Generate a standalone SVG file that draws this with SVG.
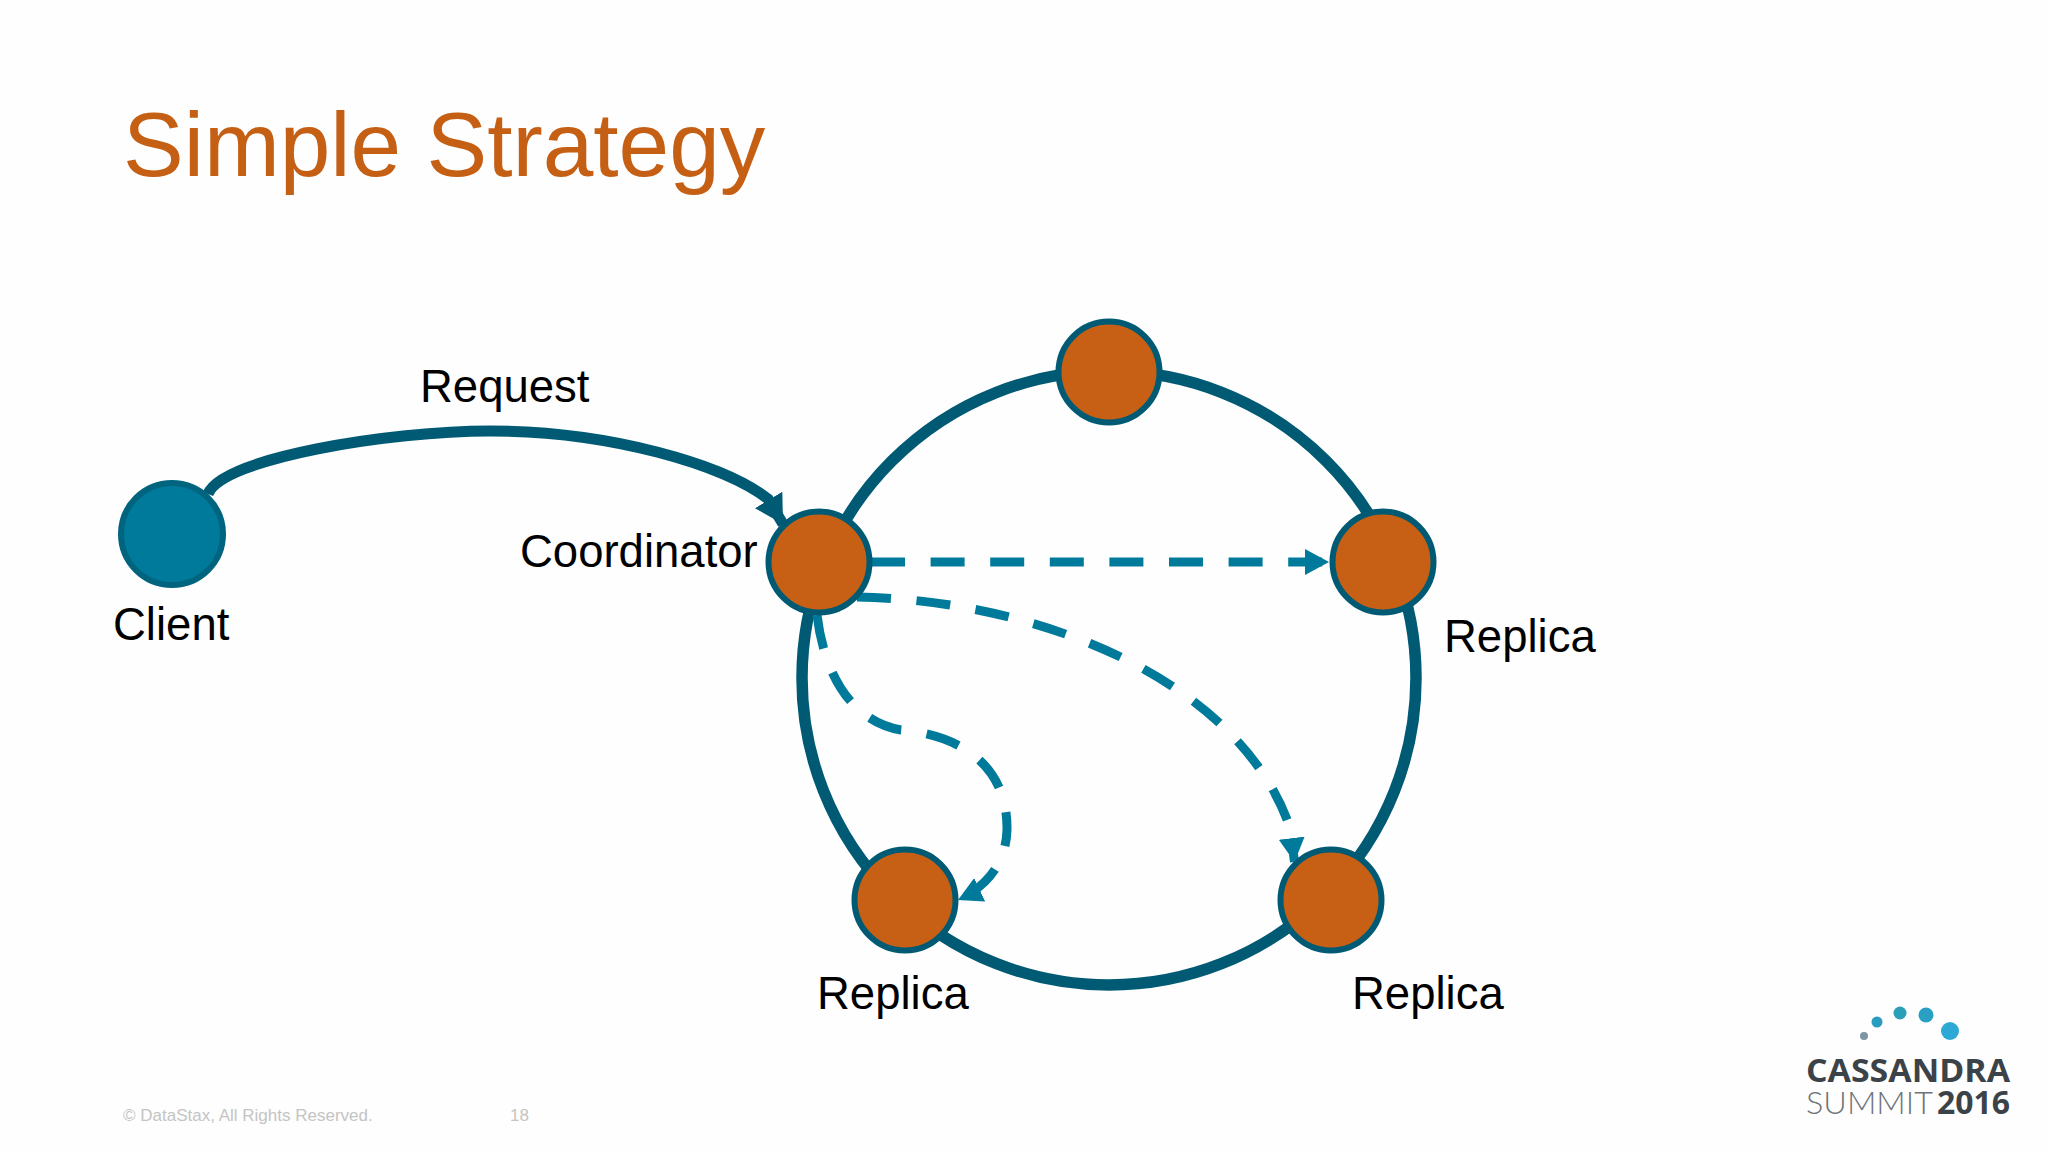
<svg xmlns="http://www.w3.org/2000/svg" width="2048" height="1152" viewBox="0 0 2048 1152">
<style>
text{font-family:"Liberation Sans",Arial,sans-serif}
.lbl{font-size:45.5px;fill:#000}
.node{fill:#c75f14;stroke:#005a73;stroke-width:6}
.dash{fill:none;stroke:#007a9b;stroke-width:9;stroke-dasharray:34 25.6}
.foot{font-size:17px;fill:#c4c4c4}
</style>
<defs>
<marker id="a" markerUnits="userSpaceOnUse" markerWidth="26" markerHeight="26" refX="24" refY="13" orient="auto"><path d="M0 0L24 13L0 26z" fill="#007a9b"/></marker>
<marker id="b" markerUnits="userSpaceOnUse" markerWidth="32" markerHeight="32" refX="28" refY="16" orient="auto"><path d="M0 0L28 16L0 32z" fill="#005a73"/></marker>
</defs>
<rect width="2048" height="1152" fill="#fefefe"/>
<text x="123" y="176" font-size="91" fill="#c55f14">Simple Strategy</text>
<g id="connectors">
<ellipse cx="1109" cy="678" rx="307" ry="307" fill="none" stroke="#005a73" stroke-width="11.500"/>
<path d="M208 494C222 458 390 431 490 431C610 431 725 465 768 499L783 524" fill="none" stroke="#005a73" stroke-width="11" marker-end="url(#b)"/>
<path class="dash" d="M871 562H1329" marker-end="url(#a)"/>
<path class="dash" d="M857 597C1040 600 1235 680 1288 822Q1291 832 1294.500 862" marker-end="url(#a)"/>
<path class="dash" d="M817 615C825 680 855 722 901 730C960 735 1008 765 1007 830C1006 860 990 885 958 900" marker-end="url(#a)"/>
</g>
<g id="client"><circle cx="172" cy="534" r="51" fill="#007a9b" stroke="#00647f" stroke-width="6"/><text class="lbl" x="113" y="640">Client</text></g>
<g id="request-label"><text class="lbl" x="420" y="402">Request</text></g>
<g id="node-top"><circle class="node" cx="1109" cy="372" r="50.500"/></g>
<g id="coordinator"><circle class="node" cx="819" cy="562" r="50.500"/><text class="lbl" x="520" y="567">Coordinator</text></g>
<g id="replica-right"><circle class="node" cx="1383" cy="562" r="50.500"/><text class="lbl" x="1444" y="652">Replica</text></g>
<g id="replica-left"><circle class="node" cx="905" cy="900" r="50.500"/><text class="lbl" x="817" y="1009">Replica</text></g>
<g id="replica-bottom"><circle class="node" cx="1331" cy="900" r="50.500"/><text class="lbl" x="1352" y="1009">Replica</text></g>
<g id="footer"><text class="foot" x="123" y="1121">© DataStax, All Rights Reserved.</text><text class="foot" x="510" y="1121">18</text></g>
<g id="logo">
<circle cx="1864" cy="1036" r="4" fill="#7d95a5"/><circle cx="1877" cy="1022" r="5.500" fill="#2a9cc0"/><circle cx="1900" cy="1013" r="6.500" fill="#2a9fb8"/><circle cx="1926" cy="1015" r="7.500" fill="#2a9fc4"/><circle cx="1950" cy="1031" r="9" fill="#2ea8d4"/>
<text x="1806" y="1082" font-size="32" font-weight="700" fill="#3c4348" style="font-family:'Open Sans',sans-serif" textLength="204" lengthAdjust="spacingAndGlyphs">CASSANDRA</text>
<text x="1806" y="1114" font-size="32" fill="#6e7478" style="font-family:Lato,sans-serif;font-weight:300" textLength="127" lengthAdjust="spacingAndGlyphs">SUMMIT</text>
<text x="1937" y="1114" font-size="32" font-weight="700" fill="#3c4348" style="font-family:'Open Sans',sans-serif" textLength="73" lengthAdjust="spacingAndGlyphs">2016</text>
</g>
</svg>
